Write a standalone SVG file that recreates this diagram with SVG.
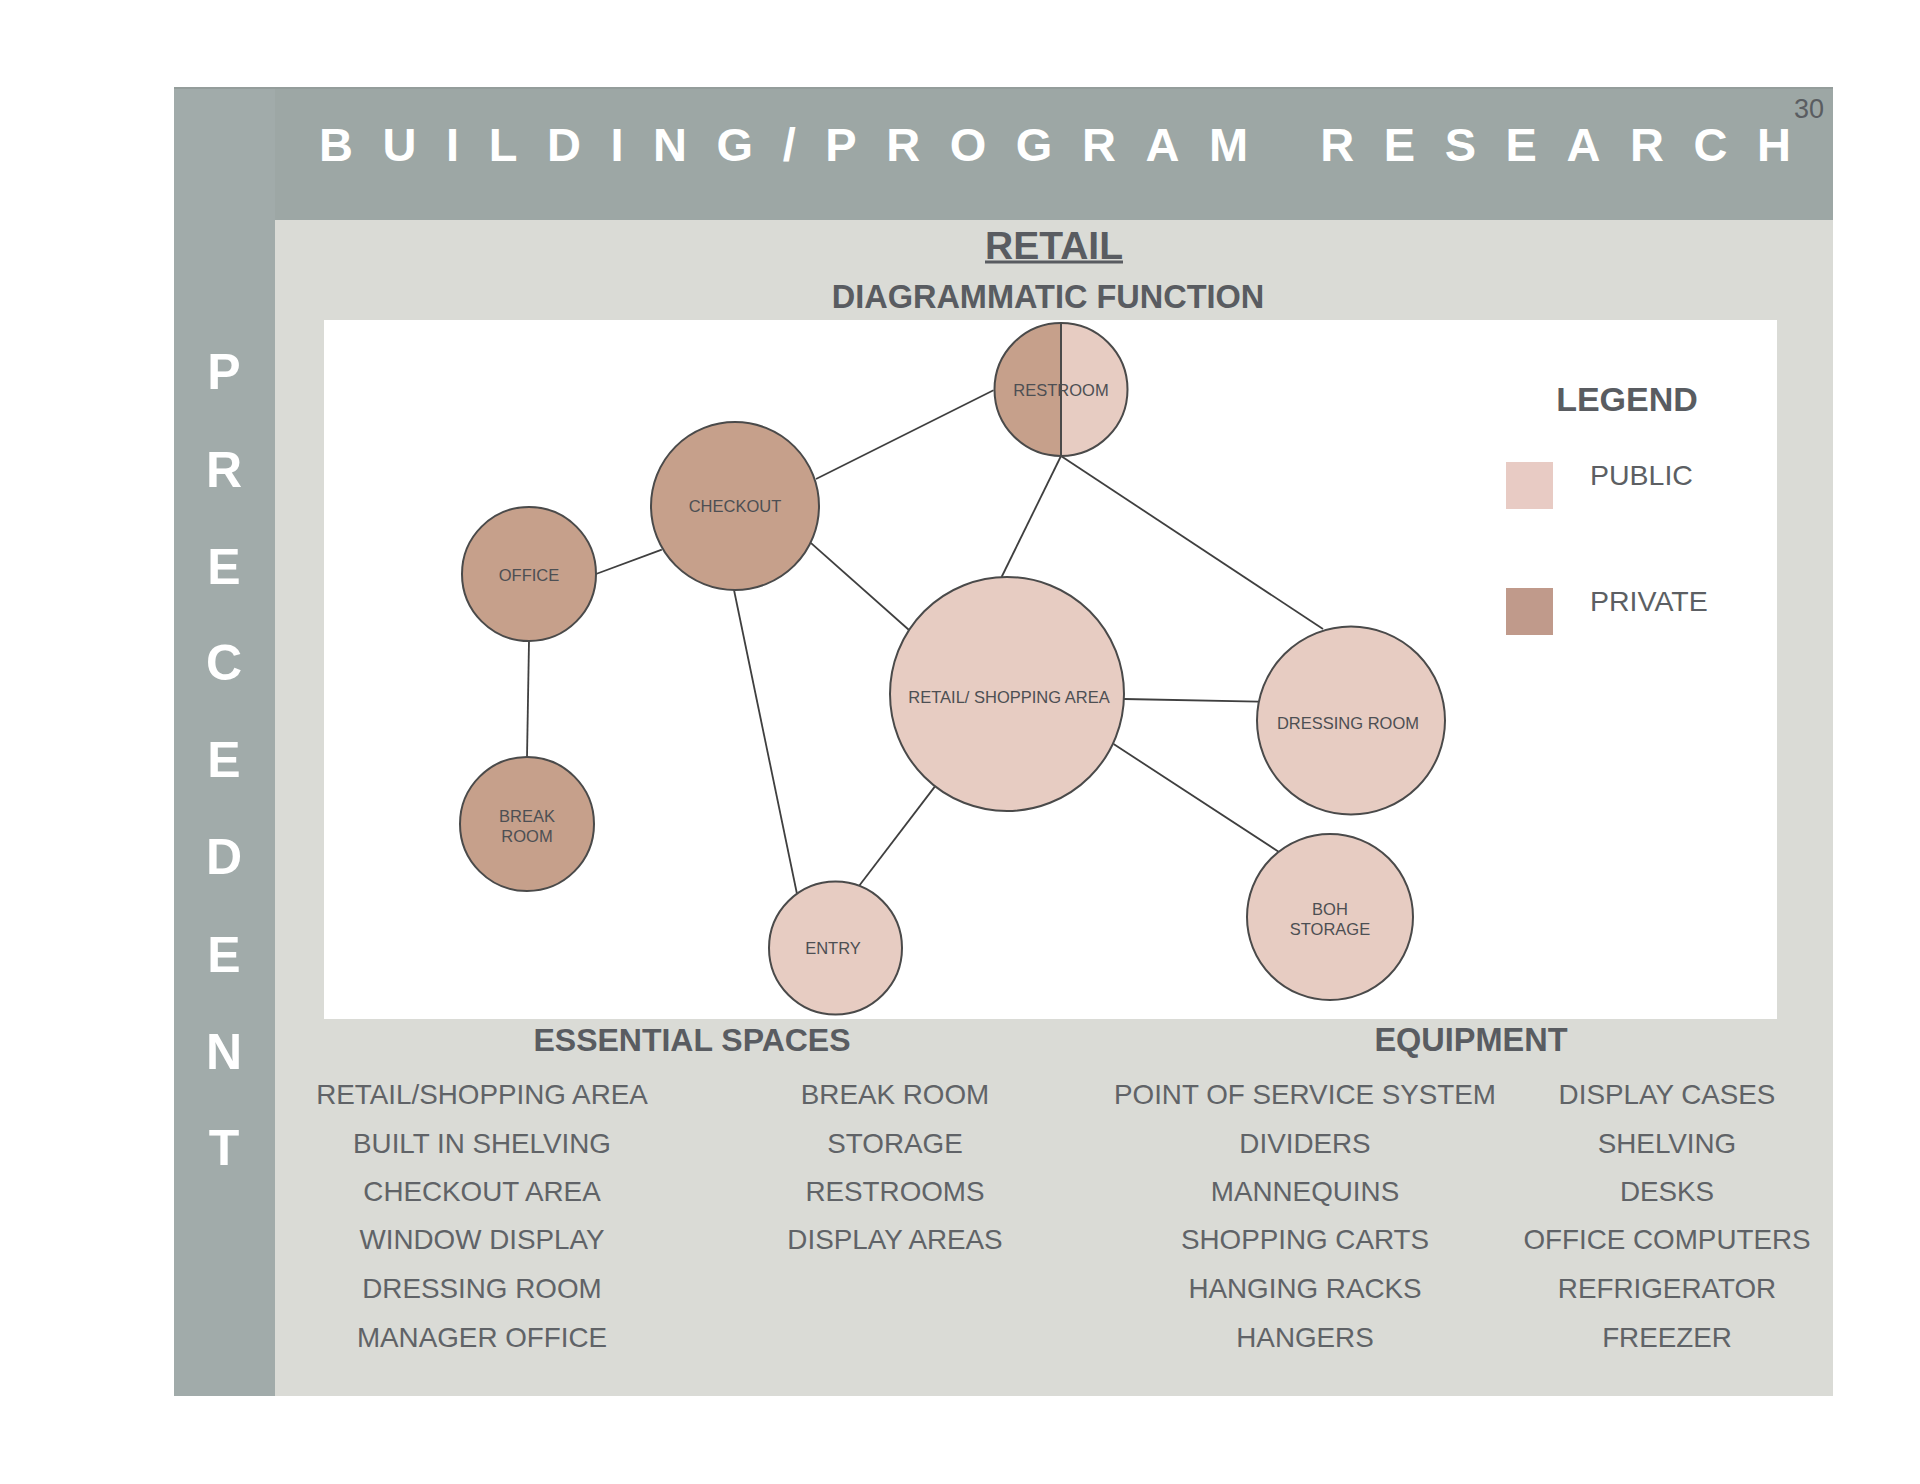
<svg xmlns="http://www.w3.org/2000/svg" width="1920" height="1484" viewBox="0 0 1920 1484">
<defs>
<style>
.node circle{stroke:#4a4a4a;stroke-width:2}
.pub{fill:#e7ccc2}
.pri{fill:#c6a08b}
.lbl{font-family:"Liberation Sans",Arial,sans-serif;font-size:16.5px;fill:#4d4f53;text-anchor:middle}
.conn line{stroke:#3f3f3f;stroke-width:1.8}
.item{font-family:"Liberation Sans",Arial,sans-serif;font-size:27.8px;fill:#606367;text-anchor:middle}
.head{font-family:"Liberation Sans",Arial,sans-serif;font-weight:bold;fill:#595c61;text-anchor:middle}
.side{font-family:"Liberation Sans",Arial,sans-serif;font-weight:bold;font-size:50px;fill:#ffffff;text-anchor:middle}
</style>
</defs>
<rect width="1920" height="1484" fill="#ffffff"/>
<!-- frame -->
<rect x="174" y="87" width="1659" height="1309" fill="#dadbd6"/>
<rect x="174" y="87" width="101" height="1309" fill="#a1abaa"/>
<rect x="275" y="87" width="1558" height="133" fill="#9da7a5"/>
<rect x="174" y="87" width="1659" height="2" fill="#949d9b"/>
<text x="319" y="161" font-family="'Liberation Sans',Arial,sans-serif" font-weight="bold" font-size="47" fill="#ffffff" textLength="1472" lengthAdjust="spacing">BUILDING/PROGRAM RESEARCH</text>
<text x="1824" y="118" font-family="'Liberation Sans',Arial,sans-serif" font-size="27" fill="#5a5d61" text-anchor="end">30</text>
<g id="sidebar-text">
<text class="side" x="224" y="389">P</text>
<text class="side" x="224" y="487">R</text>
<text class="side" x="224" y="584">E</text>
<text class="side" x="224" y="680">C</text>
<text class="side" x="224" y="777">E</text>
<text class="side" x="224" y="874">D</text>
<text class="side" x="224" y="972">E</text>
<text class="side" x="224" y="1069">N</text>
<text class="side" x="224" y="1165">T</text>
</g>
<text class="head" x="1054" y="259" font-size="39">RETAIL</text>
<rect x="985" y="260.5" width="138" height="3" fill="#595c61"/>
<text class="head" x="1048" y="308" font-size="32.5">DIAGRAMMATIC FUNCTION</text>
<!-- diagram box -->
<rect x="324" y="320" width="1453" height="699" fill="#ffffff"/>
<g id="connectors" class="conn">
<line x1="993.5" y1="390.3" x2="816" y2="479"/>
<line x1="661.8" y1="549.7" x2="596" y2="574"/>
<line x1="810.8" y1="542.8" x2="909" y2="630"/>
<line x1="529" y1="641" x2="527" y2="757.6"/>
<line x1="734" y1="590" x2="797" y2="894"/>
<line x1="934.8" y1="786.6" x2="859" y2="886"/>
<line x1="1061" y1="456" x2="1001.6" y2="577"/>
<line x1="1061" y1="456" x2="1323" y2="629"/>
<line x1="1124" y1="699" x2="1258.5" y2="701.6"/>
<line x1="1113.6" y1="744" x2="1279" y2="852"/>
</g>
<g id="node-restroom" class="node">
<circle cx="1061" cy="389.5" r="66.5" class="pub" style="stroke:none"/>
<path d="M1061 323 A66.5 66.5 0 0 0 1061 456 Z" class="pri"/>
<circle cx="1061" cy="389.5" r="66.5" fill="none"/>
<line x1="1061" y1="323" x2="1061" y2="456" stroke="#4a4a4a" stroke-width="2"/>
<text class="lbl" x="1061" y="396">RESTROOM</text>
</g>
<g id="node-checkout" class="node">
<circle cx="735" cy="506" r="84" class="pri"/>
<text class="lbl" x="735" y="512">CHECKOUT</text>
</g>
<g id="node-office" class="node">
<circle cx="529" cy="574" r="67" class="pri"/>
<text class="lbl" x="529" y="581">OFFICE</text>
</g>
<g id="node-breakroom" class="node">
<circle cx="527" cy="824" r="67" class="pri"/>
<text class="lbl" x="527" y="822">BREAK</text>
<text class="lbl" x="527" y="842">ROOM</text>
</g>
<g id="node-entry" class="node">
<circle cx="835.5" cy="948" r="66.5" class="pub"/>
<text class="lbl" x="833" y="954">ENTRY</text>
</g>
<g id="node-retail" class="node">
<circle cx="1007" cy="694" r="117" class="pub"/>
<text class="lbl" x="1009" y="703">RETAIL/ SHOPPING AREA</text>
</g>
<g id="node-dressing" class="node">
<circle cx="1351" cy="720.5" r="94" class="pub"/>
<text class="lbl" x="1348" y="729">DRESSING ROOM</text>
</g>
<g id="node-boh" class="node">
<circle cx="1330" cy="917" r="83" class="pub"/>
<text class="lbl" x="1330" y="915">BOH</text>
<text class="lbl" x="1330" y="934.5">STORAGE</text>
</g>
<g id="legend">
<text class="head" x="1627" y="411" font-size="34">LEGEND</text>
<rect x="1506" y="462" width="47" height="47" fill="#e8cbc4"/>
<text x="1590" y="484.5" font-family="'Liberation Sans',Arial,sans-serif" font-size="28.5" fill="#5c5f63">PUBLIC</text>
<rect x="1506" y="588" width="47" height="47" fill="#c09a8b"/>
<text x="1590" y="611" font-family="'Liberation Sans',Arial,sans-serif" font-size="28.5" fill="#5c5f63">PRIVATE</text>
</g>
<g id="essential-spaces">
<text class="head" x="692" y="1051" font-size="32">ESSENTIAL SPACES</text>
<text class="item" x="482" y="1104">RETAIL/SHOPPING AREA</text>
<text class="item" x="482" y="1153">BUILT IN SHELVING</text>
<text class="item" x="482" y="1201">CHECKOUT AREA</text>
<text class="item" x="482" y="1249">WINDOW DISPLAY</text>
<text class="item" x="482" y="1298">DRESSING ROOM</text>
<text class="item" x="482" y="1346.5">MANAGER OFFICE</text>
<text class="item" x="895" y="1104">BREAK ROOM</text>
<text class="item" x="895" y="1153">STORAGE</text>
<text class="item" x="895" y="1201">RESTROOMS</text>
<text class="item" x="895" y="1249">DISPLAY AREAS</text>
</g>
<g id="equipment">
<text class="head" x="1471" y="1051" font-size="32.5">EQUIPMENT</text>
<text class="item" x="1305" y="1104">POINT OF SERVICE SYSTEM</text>
<text class="item" x="1305" y="1153">DIVIDERS</text>
<text class="item" x="1305" y="1201">MANNEQUINS</text>
<text class="item" x="1305" y="1249">SHOPPING CARTS</text>
<text class="item" x="1305" y="1298">HANGING RACKS</text>
<text class="item" x="1305" y="1346.5">HANGERS</text>
<text class="item" x="1667" y="1104">DISPLAY CASES</text>
<text class="item" x="1667" y="1153">SHELVING</text>
<text class="item" x="1667" y="1201">DESKS</text>
<text class="item" x="1667" y="1249">OFFICE COMPUTERS</text>
<text class="item" x="1667" y="1298">REFRIGERATOR</text>
<text class="item" x="1667" y="1346.5">FREEZER</text>
</g>
</svg>
